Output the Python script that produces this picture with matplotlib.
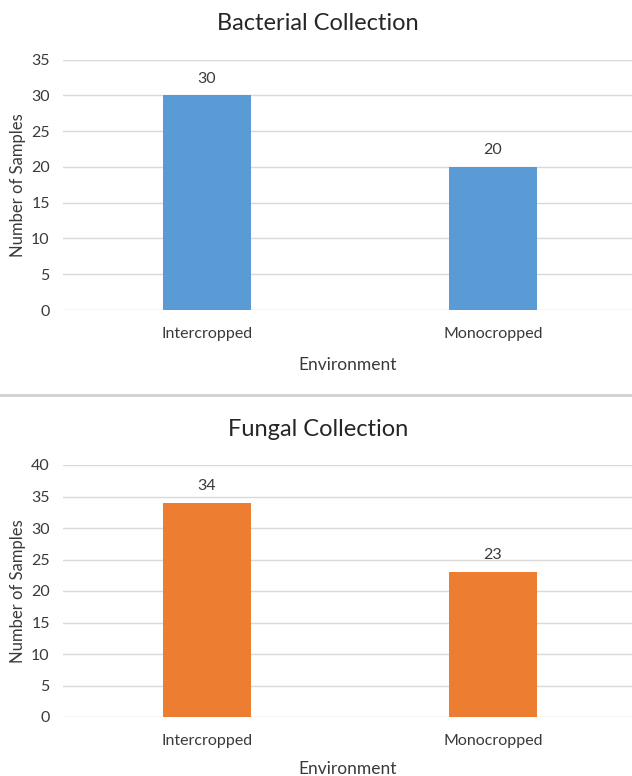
import matplotlib.pyplot as plt
from matplotlib.lines import Line2D

plt.rcParams['font.family'] = ['Lato', 'DejaVu Sans']

environments = ["Intercropped", "Monocropped"]
bacterial_counts = [30, 20]
fungal_counts = [34, 23]

TEXT = "#3a3a3a"
GRID = "#d9d9d9"

W, H = 632, 776
fig = plt.figure(figsize=(W / 100, H / 100), dpi=100)


def px_axes(left, top, right, bottom):
    return fig.add_axes([left / W, 1 - bottom / H, (right - left) / W, (bottom - top) / H])


def draw_panel(ax, title, counts, color, ymax, top, bottom, xlabel_gap):
    x = range(len(environments))
    bars = ax.bar(x, counts, width=0.308, color=color, zorder=3)
    ax.set_xlim(-0.503, 1.486)
    ax.set_ylim(0, ymax)
    ax.set_yticks(range(0, ymax + 1, 5))
    ax.set_xticks(list(x))
    ax.set_xticklabels(environments)
    ax.grid(axis="y", color=GRID, linewidth=1, zorder=0)
    for s in ax.spines.values():
        s.set_visible(False)
    ax.tick_params(length=0, labelsize=11.5, colors=TEXT)
    ax.tick_params(axis="x", pad=12)
    ax.tick_params(axis="y", pad=9.5)
    ax.bar_label(bars, labels=[str(c) for c in counts], padding=7, fontsize=11.5, color=TEXT)

    # axis titles and chart title placed in figure pixels
    ax.set_xlabel("Environment", fontsize=12.5, color=TEXT)
    ax.xaxis.set_label_coords(0.5, -xlabel_gap / (bottom - top))
    fig.text(18 / W, 1 - (top + bottom) / 2 / H, "Number of Samples", rotation=90,
             ha="center", va="center", fontsize=12, color=TEXT)
    fig.text(318 / W, 1 - (top - 29) / H, title, ha="center", va="baseline",
             fontsize=17, color="#262626")


ax1 = px_axes(63, 59.5, 632, 310)
draw_panel(ax1, "Bacterial Collection", bacterial_counts, "#5b9bd5", 35, 59.5, 310, 47)

ax2 = px_axes(63, 465, 632, 717)
draw_panel(ax2, "Fungal Collection", fungal_counts, "#ed7d31", 40, 465, 717, 44)

# divider between the two charts
fig.add_artist(Line2D([0, 1], [1 - 395 / H, 1 - 395 / H], transform=fig.transFigure,
                      color="#d0d0d0", linewidth=2))

fig.savefig("out.png", dpi=100, facecolor="white")
